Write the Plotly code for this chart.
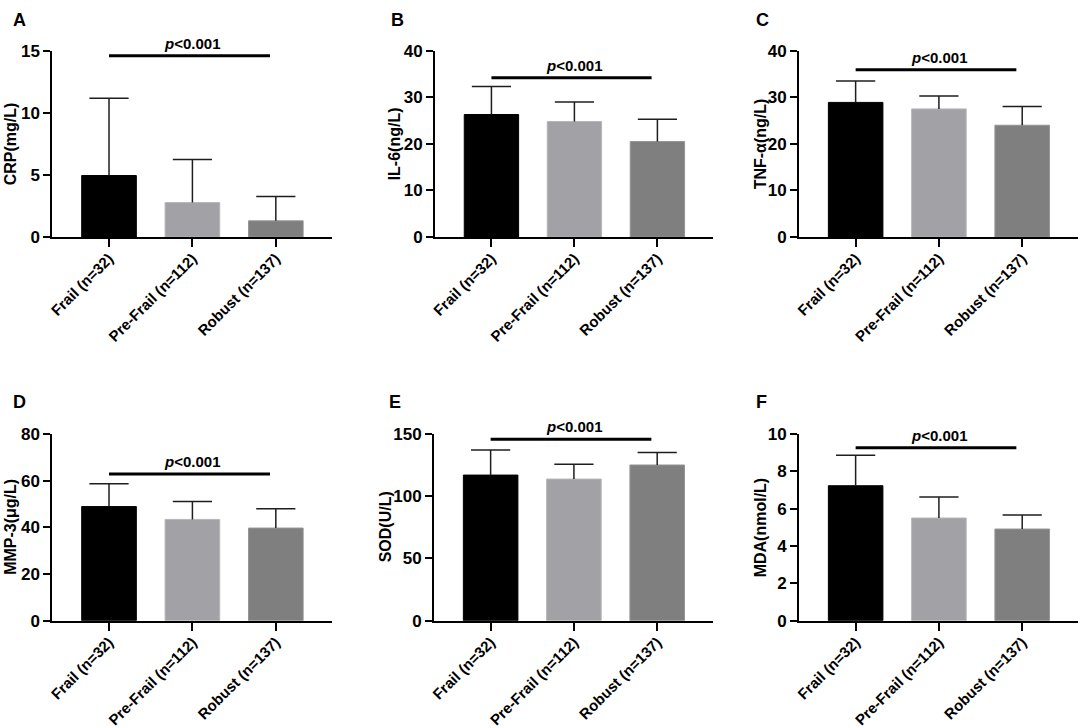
import plotly.graph_objects as go

# ---------------- data ----------------
categories = ["Frail (n=32)", "Pre-Frail (n=112)", "Robust (n=137)"]

crp_mean = [4.95, 2.77, 1.30]
crp_sd = [6.22, 3.48, 1.96]

il6_mean = [26.3, 24.8, 20.5]
il6_sd = [6.0, 4.2, 4.8]

tnf_mean = [28.9, 27.5, 24.0]
tnf_sd = [4.6, 2.8, 4.0]

mmp3_mean = [48.9, 43.4, 39.7]
mmp3_sd = [9.8, 7.7, 8.3]

sod_mean = [117.0, 113.8, 125.1]
sod_sd = [20.1, 11.8, 10.1]

mda_mean = [7.23, 5.50, 4.91]
mda_sd = [1.63, 1.13, 0.75]

panel_letters = ["A", "B", "C", "D", "E", "F"]
y_titles = ["CRP(mg/L)", "IL-6(ng/L)", "TNF-α(ng/L)", "MMP-3(μg/L)", "SOD(U/L)", "MDA(nmol/L)"]
y_max = [15, 40, 40, 80, 150, 10]
y_dtick = [5, 10, 10, 20, 50, 2]
bracket_y = [14.6, 34.2, 35.9, 62.9, 145.7, 9.27]
p_label = "<i>p</i>&lt;0.001"

means = [crp_mean, il6_mean, tnf_mean, mmp3_mean, sod_mean, mda_mean]
sds = [crp_sd, il6_sd, tnf_sd, mmp3_sd, sod_sd, mda_sd]

# ---------------- style / layout ----------------
W, H = 1084, 728
FONT = "Liberation Sans, Arial, Helvetica, sans-serif"
bar_fill = ["#000000", "#a2a1a6", "#7f7f7f"]
bar_edge = ["#000000", "#b6b6b9", "#959595"]
err_color = "#1e1e1e"

# pixel boxes of each plot area: (x0, x1, ytop, ybottom)
boxes = [
    (52.3, 331.7, 50.7, 237.0),
    (435.0, 713.0, 50.7, 237.0),
    (799.0, 1078.0, 50.7, 237.0),
    (52.3, 331.7, 434.0, 620.7),
    (434.0, 713.0, 434.0, 620.7),
    (799.0, 1078.0, 434.0, 620.7),
]
letter_pos = [(11, 8), (389, 8), (754, 8), (11, 390), (387, 390), (754, 390)]
title_x = [10.5, 394.5, 760.5, 10.5, 385.0, 760.0]

fig = go.Figure()
annotations = []
shapes = []

for i in range(6):
    ax = "" if i == 0 else str(i + 1)
    xname, yname = "x" + ax, "y" + ax
    m, s = means[i], sds[i]

    fig.add_trace(go.Bar(
        x=categories, y=m, xaxis=xname, yaxis=yname,
        width=0.655,
        marker=dict(color=bar_fill, line=dict(color=bar_edge, width=1)),
        hoverinfo="x+y",
    ))

    # one-sided (upper) error whiskers
    ex, ey = [], []
    for c, mv, sv in zip(categories, m, s):
        ex += [c, c, None]
        ey += [mv, mv + sv, None]
    fig.add_trace(go.Scatter(
        x=ex, y=ey, xaxis=xname, yaxis=yname, mode="lines",
        line=dict(color=err_color, width=1.5), hoverinfo="skip",
    ))
    fig.add_trace(go.Scatter(
        x=categories, y=[mv + sv for mv, sv in zip(m, s)],
        xaxis=xname, yaxis=yname, mode="markers",
        marker=dict(symbol="line-ew", size=28,
                    line=dict(color=err_color, width=1.5)),
        hoverinfo="skip",
    ))

    x0, x1, yt, yb = boxes[i]
    xdom = [x0 / W, x1 / W]
    ydom = [1 - yb / H, 1 - yt / H]

    fig.layout["xaxis" + ax] = dict(
        domain=xdom, anchor=yname, type="category",
        range=[-0.68, 2.67], automargin=False,
        showline=True, linecolor="black", linewidth=2,
        ticks="outside", ticklen=8, tickwidth=2, tickcolor="black",
        tickangle=-45, showgrid=False, zeroline=False,
        ticklabelstandoff=-3,
        tickfont=dict(family=FONT, size=15, color="black", weight="bold"),
        fixedrange=True,
    )
    fig.layout["yaxis" + ax] = dict(
        domain=ydom, anchor=xname, automargin=False,
        range=[0, y_max[i]], dtick=y_dtick[i], tick0=0,
        showline=True, linecolor="black", linewidth=2,
        ticks="outside", ticklen=7, tickwidth=2, tickcolor="black",
        showgrid=False, zeroline=False,
        tickfont=dict(family=FONT, size=17, color="black", weight="bold"),
        fixedrange=True,
    )

    # y-axis title (rotated)
    annotations.append(dict(
        x=title_x[i] / W, y=(ydom[0] + ydom[1]) / 2,
        xref="paper", yref="paper", textangle=-90,
        text=y_titles[i], showarrow=False,
        xanchor="center", yanchor="middle",
        font=dict(family=FONT, size=16, color="black", weight="bold"),
    ))

    # significance bracket
    shapes.append(dict(
        type="line", xref=xname, yref=yname,
        x0=0, x1=1.93, y0=bracket_y[i], y1=bracket_y[i],
        line=dict(color="black", width=3),
    ))
    annotations.append(dict(
        x=categories[1], y=bracket_y[i], xref=xname, yref=yname,
        text=p_label, showarrow=False, xanchor="center", yanchor="bottom",
        yshift=2,
        font=dict(family=FONT, size=15, color="black", weight="bold"),
    ))

    lx, ly = letter_pos[i]
    annotations.append(dict(
        x=lx / W, y=1 - ly / H,
        xref="paper", yref="paper",
        text=panel_letters[i], showarrow=False,
        xanchor="left", yanchor="top",
        font=dict(family=FONT, size=18, color="black", weight="bold"),
    ))

fig.update_layout(
    template="none",
    width=W, height=H,
    margin=dict(l=0, r=0, t=0, b=0, autoexpand=False),
    paper_bgcolor="white", plot_bgcolor="white",
    showlegend=False,
    annotations=annotations,
    shapes=shapes,
    bargap=0.3,
)

# remove the default 8px page margin so the figure sits at the window origin
fig.write_html("out.html",
               config={"displayModeBar": False, "staticPlot": True},
               post_script="document.body.style.margin='0';")
